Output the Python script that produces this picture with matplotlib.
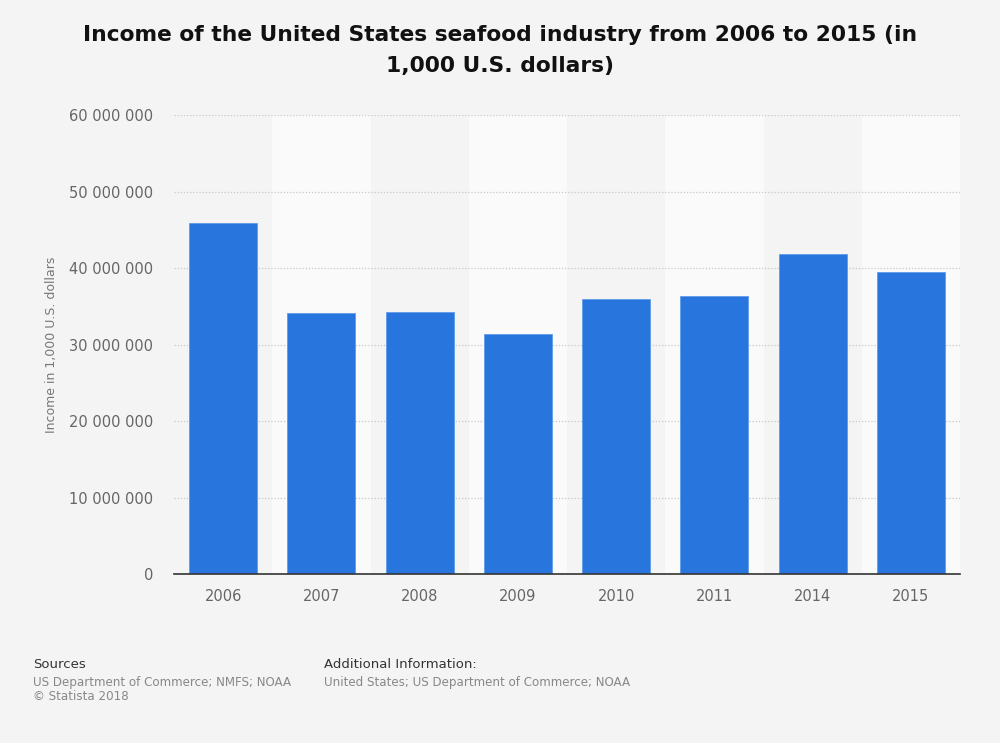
import matplotlib.pyplot as plt
from matplotlib.ticker import FuncFormatter

# data
years = ['2006', '2007', '2008', '2009', '2010', '2011', '2014', '2015']
income = [45900000, 34150000, 34300000, 31400000, 36000000, 36400000, 41800000, 39500000]
yticks = [0, 10000000, 20000000, 30000000, 40000000, 50000000, 60000000]

bg = '#f4f4f4'
fig = plt.figure(figsize=(10, 7.43), dpi=100, facecolor=bg)
ax = fig.add_axes([0.174, 0.2275, 0.786, 0.6175])
ax.set_facecolor(bg)

x = list(range(len(years)))

# alternating column bands
for i in x:
    if i % 2 == 1:
        ax.axvspan(i - 0.5, i + 0.5, ymax=1, color='#fafafa', zorder=0, lw=0)

ax.bar(x, income, width=0.69, color='#2876dd', zorder=3,
       edgecolor='#5f9be8', linewidth=0.6)

ax.set_xlim(-0.5, len(years) - 0.5)
ax.set_ylim(0, 60000000)
ax.set_yticks(yticks)
ax.yaxis.set_major_formatter(FuncFormatter(lambda v, p: f'{int(v):,}'.replace(',', ' ')))
ax.set_xticks(x)
ax.set_xticklabels(years)

ax.grid(axis='y', color='#c8c8c8', linestyle=(0, (1, 1.5)), linewidth=0.9, zorder=1)
ax.set_axisbelow(True)

for s in ['top', 'right', 'left']:
    ax.spines[s].set_visible(False)
ax.spines['bottom'].set_color('#333333')
ax.spines['bottom'].set_linewidth(1.2)
ax.spines['bottom'].set_zorder(4)

ax.tick_params(axis='y', length=0, pad=15, labelsize=10.5, labelcolor='#666666')
ax.tick_params(axis='x', length=0, pad=11, labelsize=10.5, labelcolor='#666666')

ax.set_ylabel('Income in 1,000 U.S. dollars', fontsize=9, color='#777777')
ax.yaxis.set_label_coords(-0.147, 0.5)

fig.text(0.5, 0.966, 'Income of the United States seafood industry from 2006 to 2015 (in\n1,000 U.S. dollars)',
         ha='center', va='top', fontsize=15.7, fontweight='bold', color='#111111',
         linespacing=1.7)

# footer
fig.text(0.033, 0.105, 'Sources', fontsize=9.5, color='#333333', va='center')
fig.text(0.033, 0.082, 'US Department of Commerce; NMFS; NOAA', fontsize=8.6, color='#888888', va='center')
fig.text(0.033, 0.062, '\u00a9 Statista 2018', fontsize=8.6, color='#888888', va='center')
fig.text(0.324, 0.105, 'Additional Information:', fontsize=9.5, color='#333333', va='center')
fig.text(0.324, 0.082, 'United States; US Department of Commerce; NOAA', fontsize=8.6, color='#888888', va='center')

fig.savefig('out.png', dpi=100, facecolor=bg)
